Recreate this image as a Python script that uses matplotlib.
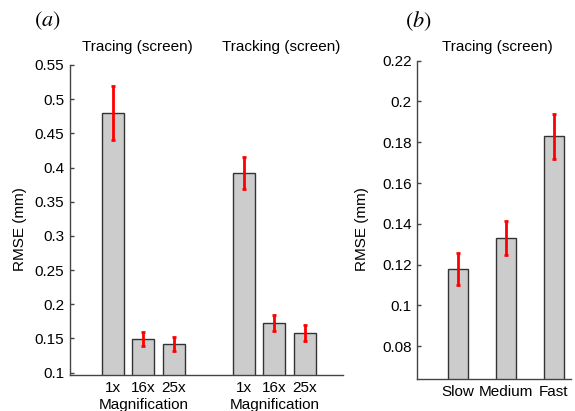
import matplotlib
matplotlib.use('Agg')
import matplotlib.pyplot as plt
from matplotlib.transforms import blended_transform_factory

plt.rcParams['font.family'] = ['Liberation Sans', 'DejaVu Sans']
plt.rcParams['font.size'] = 11
plt.rcParams['mathtext.fontset'] = 'stix'

# %% data
mag_labels = ['1x', '16x', '25x']
tracing_rmse = [0.480, 0.149, 0.142]
tracing_err = [0.039, 0.010, 0.010]
tracking_rmse = [0.392, 0.173, 0.158]
tracking_err = [0.024, 0.012, 0.011]

speed_labels = ['Slow', 'Medium', 'Fast']
speed_rmse = [0.118, 0.133, 0.183]
speed_err = [0.0078, 0.0083, 0.011]

bar_face = '#cccccc'
bar_edge = '#333333'
err_col = '#ff0000'


def style_axis(ax):
    for s in ['top', 'right']:
        ax.spines[s].set_visible(False)
    for s in ['left', 'bottom']:
        ax.spines[s].set_color('#444444')
        ax.spines[s].set_linewidth(1.0)
    ax.tick_params(axis='y', direction='in', length=3, width=1, color='#444444', pad=4)
    ax.tick_params(axis='x', length=0, pad=4)


fig = plt.figure(figsize=(5.75, 4.11), dpi=100)

# %% panel (a)
axa = fig.add_axes([70/575, 36/411, 273/575, 310/411])
pos1 = [1, 2, 3]
pos2 = [5.3, 6.3, 7.3]
axa.bar(pos1, tracing_rmse, width=0.72, color=bar_face, edgecolor=bar_edge, linewidth=1)
axa.bar(pos2, tracking_rmse, width=0.72, color=bar_face, edgecolor=bar_edge, linewidth=1)
axa.errorbar(pos1, tracing_rmse, yerr=tracing_err, fmt='none', ecolor=err_col,
             elinewidth=2, capsize=1.5, capthick=2)
axa.errorbar(pos2, tracking_rmse, yerr=tracking_err, fmt='none', ecolor=err_col,
             elinewidth=2, capsize=1.5, capthick=2)
axa.set_xlim(-0.41, 8.55)
axa.set_ylim(0.0966, 0.55)
axa.set_yticks([0.1, 0.15, 0.2, 0.25, 0.3, 0.35, 0.4, 0.45, 0.5, 0.55])
axa.set_yticklabels(['0.1', '0.15', '0.2', '0.25', '0.3', '0.35', '0.4', '0.45', '0.5', '0.55'])
axa.set_xticks(pos1 + pos2)
axa.set_xticklabels(mag_labels + mag_labels)
style_axis(axa)
axa.set_ylabel('RMSE (mm)')
axa.yaxis.set_label_coords(-0.157, 0.47)

tr = blended_transform_factory(axa.transData, axa.transAxes)
axa.text(pos1[1], -0.118, 'Magnification', transform=tr, ha='center', va='bottom')
axa.text(pos2[1], -0.118, 'Magnification', transform=tr, ha='center', va='bottom')

# %% panel (b)
axb = fig.add_axes([417.3/575, 31.7/411, 153.4/575, 318.6/411])
posb = [1, 2, 3]
axb.bar(posb, speed_rmse, width=0.43, color=bar_face, edgecolor=bar_edge, linewidth=1)
axb.errorbar(posb, speed_rmse, yerr=speed_err, fmt='none', ecolor=err_col,
             elinewidth=2, capsize=1.5, capthick=2)
axb.set_xlim(0.15, 3.35)
axb.set_ylim(0.0638, 0.22)
axb.set_yticks([0.08, 0.1, 0.12, 0.14, 0.16, 0.18, 0.2, 0.22])
axb.set_yticklabels(['0.08', '0.1', '0.12', '0.14', '0.16', '0.18', '0.2', '0.22'])
axb.set_xticks(posb)
axb.set_xticklabels(speed_labels)
style_axis(axb)
axb.set_ylabel('RMSE (mm)')
axb.yaxis.set_label_coords(-0.315, 0.47)

# %% titles and panel letters
fig.text(137/575, 1 - 47/411, 'Tracing (screen)', ha='center', va='center')
fig.text(281/575, 1 - 47/411, 'Tracking (screen)', ha='center', va='center')
fig.text(497/575, 1 - 47/411, 'Tracing (screen)', ha='center', va='center')
fig.text(47/575, 1 - 21/411, r'$(a)$', ha='center', va='center', fontsize=16)
fig.text(418/575, 1 - 21/411, r'$(b)$', ha='center', va='center', fontsize=16)

fig.savefig('out.png', dpi=100)
